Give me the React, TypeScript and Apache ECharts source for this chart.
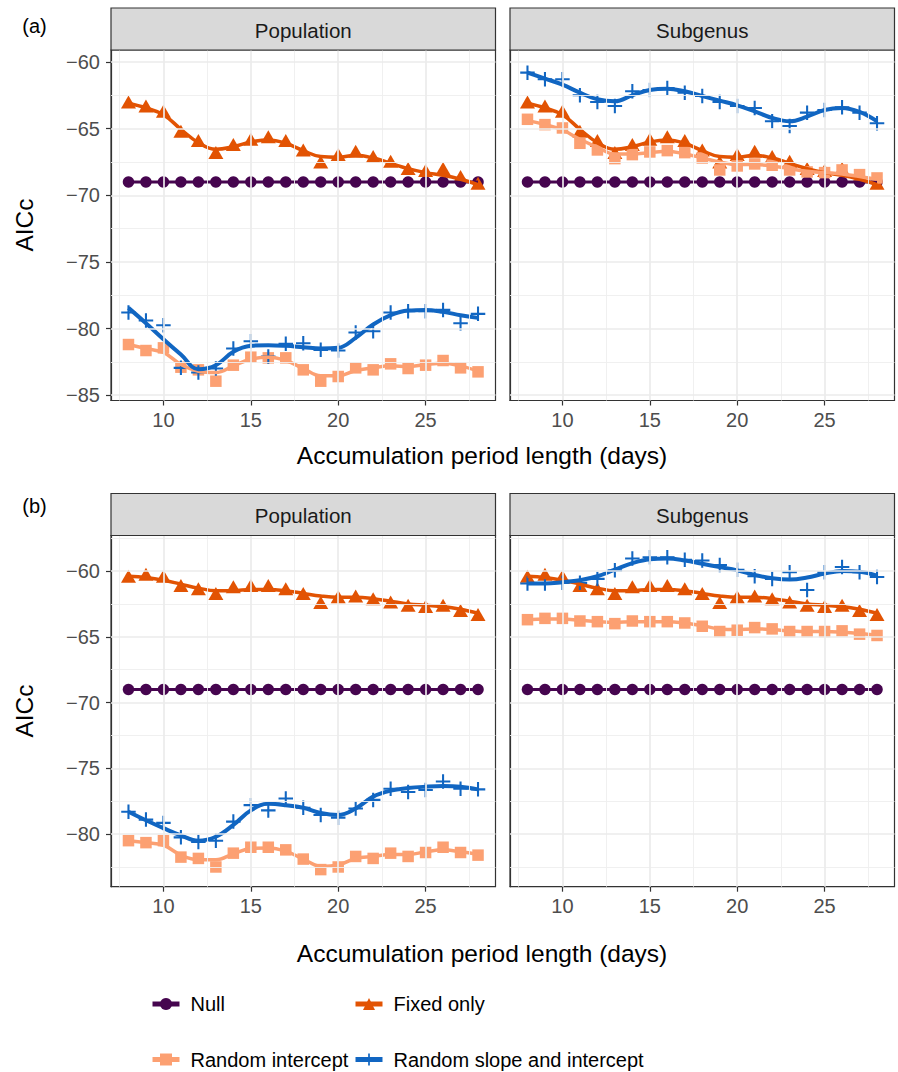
import React, { useEffect, useRef } from "react";
import * as echarts from "echarts";

const FONT = "'Liberation Sans', Arial, Helvetica, sans-serif";

// ---------- data ----------
const DAYS = [8, 9, 10, 11, 12, 13, 14, 15, 16, 17, 18, 19, 20, 21, 22, 23, 24, 25, 26, 27, 28];
const X_TICKS = [10, 15, 20, 25];
const X_MINOR = [7.5, 12.5, 17.5, 22.5, 27.5];
const Y_TICKS = [-85, -80, -75, -70, -65, -60];
const Y_MINOR = [-87.5, -82.5, -77.5, -72.5, -67.5, -62.5, -57.5];
const ROW_Y_MIN = [-85.4, -84.0];
const ROW_Y_MAX = [-59.1, -57.3];
const FACETS = ["Population", "Subgenus"];
const ROW_TAGS = ["(a)", "(b)"];
const MODELS = ["Null", "Fixed only", "Random intercept", "Random slope and intercept"];

// Null model (same in every panel)
const NULL_PTS = [-69, -69, -69, -69, -69, -69, -69, -69, -69, -69, -69, -69, -69, -69, -69, -69, -69, -69, -69, -69, -69];
const NULL_FIT = [-69, -69, -69, -69, -69, -69, -69, -69, -69, -69, -69, -69, -69, -69, -69, -69, -69, -69, -69, -69, -69];

// (a) Fixed only (same in both facets)
const A_FIXED_PTS = [-63.0, -63.3, -63.7, -65.2, -65.9, -66.8, -66.2, -65.8, -65.6, -65.9, -66.6, -67.5, -66.95, -66.7, -67.1, -67.45, -68.0, -68.15, -68.0, -68.6, -69.1];
const A_FIXED_FIT = [-63.1, -63.45, -63.95, -65.05, -66.05, -66.55, -66.35, -66.0, -65.85, -66.1, -66.65, -67.1, -67.15, -67.0, -67.2, -67.6, -68.0, -68.3, -68.5, -68.8, -69.2];
// (a) Population
const A_POP_RI_PTS = [-81.2, -81.65, -81.45, -82.9, -83.1, -83.95, -82.75, -82.15, -82.2, -82.2, -83.1, -83.95, -83.6, -82.95, -83.1, -82.65, -83.0, -82.75, -82.4, -82.95, -83.25];
const A_POP_RI_FIT = [-81.2, -81.5, -81.8, -82.7, -83.2, -83.3, -82.8, -82.3, -82.15, -82.4, -83.0, -83.55, -83.55, -83.15, -82.95, -82.8, -82.85, -82.7, -82.6, -82.8, -83.2];
const A_POP_RS_PTS = [-78.8, -79.4, -79.75, -82.95, -83.3, -83.0, -81.5, -80.95, -82.1, -81.15, -81.1, -81.6, -81.65, -80.3, -80.2, -78.8, -78.7, -78.7, -78.6, -79.6, -78.9];
const A_POP_RS_FIT = [-78.45, -79.6, -80.8, -81.95, -83.05, -82.75, -81.75, -81.3, -81.25, -81.3, -81.4, -81.5, -81.45, -80.7, -79.7, -79.0, -78.65, -78.6, -78.75, -79.0, -79.2];
// (a) Subgenus
const A_SUB_RI_PTS = [-64.3, -64.7, -64.95, -66.1, -66.6, -67.25, -66.95, -66.75, -66.65, -66.8, -67.2, -68.1, -67.8, -67.65, -67.75, -68.1, -68.25, -68.3, -68.1, -68.45, -68.7];
const A_SUB_RI_FIT = [-64.4, -64.7, -65.1, -65.8, -66.4, -66.9, -66.9, -66.8, -66.7, -66.9, -67.2, -67.5, -67.7, -67.7, -67.8, -68.0, -68.2, -68.3, -68.4, -68.6, -68.8];
const A_SUB_RS_PTS = [-60.8, -61.3, -61.3, -62.5, -63.0, -63.3, -62.2, -62.1, -61.95, -62.3, -62.55, -63.0, -63.3, -63.45, -64.45, -64.8, -63.8, -63.6, -63.4, -63.8, -64.6];
const A_SUB_RS_FIT = [-60.8, -61.25, -61.7, -62.3, -62.8, -62.95, -62.5, -62.1, -62.0, -62.2, -62.55, -62.9, -63.25, -63.7, -64.2, -64.45, -64.1, -63.6, -63.45, -63.75, -64.45];

// (b) Fixed only (same in both facets)
const B_FIXED_PTS = [-60.4, -60.25, -60.4, -61.1, -61.35, -61.7, -61.2, -61.1, -61.1, -61.35, -61.7, -62.4, -61.95, -61.9, -62.1, -62.35, -62.6, -62.7, -62.6, -63.0, -63.3];
const B_FIXED_FIT = [-60.4, -60.5, -60.7, -61.0, -61.3, -61.5, -61.5, -61.4, -61.4, -61.5, -61.7, -61.9, -62.0, -62.0, -62.1, -62.3, -62.5, -62.6, -62.7, -62.9, -63.2];
// (b) Population
const B_POP_RI_PTS = [-80.5, -80.65, -80.5, -81.75, -81.85, -82.5, -81.45, -81.0, -81.0, -81.2, -81.9, -82.7, -82.5, -81.7, -81.85, -81.45, -81.7, -81.4, -81.0, -81.4, -81.6];
const B_POP_RI_FIT = [-80.5, -80.65, -80.85, -81.6, -81.95, -81.95, -81.5, -81.1, -81.05, -81.3, -81.9, -82.45, -82.35, -81.85, -81.7, -81.55, -81.55, -81.35, -81.2, -81.35, -81.55];
const B_POP_RS_PTS = [-78.3, -78.9, -79.15, -80.25, -80.6, -80.5, -79.05, -77.8, -78.2, -77.3, -78.0, -78.55, -78.75, -78.05, -77.4, -76.55, -76.8, -76.65, -76.0, -76.55, -76.6];
const B_POP_RS_FIT = [-78.3, -78.95, -79.55, -80.1, -80.5, -80.2, -79.3, -78.2, -77.7, -77.8, -78.0, -78.4, -78.55, -78.05, -77.15, -76.7, -76.5, -76.4, -76.35, -76.4, -76.6];
// (b) Subgenus
const B_SUB_RI_PTS = [-63.7, -63.6, -63.6, -63.8, -63.85, -64.0, -63.8, -63.85, -63.85, -63.95, -64.2, -64.6, -64.5, -64.3, -64.4, -64.6, -64.6, -64.6, -64.55, -64.8, -64.9];
const B_SUB_RI_FIT = [-63.7, -63.65, -63.65, -63.75, -63.85, -63.9, -63.85, -63.85, -63.85, -63.95, -64.15, -64.4, -64.45, -64.4, -64.45, -64.55, -64.6, -64.6, -64.65, -64.75, -64.9];
const B_SUB_RS_PTS = [-60.95, -60.95, -60.9, -60.9, -60.6, -59.95, -59.05, -58.95, -58.95, -59.15, -59.2, -59.55, -59.9, -60.4, -60.6, -60.1, -61.45, -60.1, -59.7, -60.1, -60.45];
const B_SUB_RS_FIT = [-60.95, -60.95, -60.85, -60.7, -60.4, -59.9, -59.4, -59.1, -59.05, -59.2, -59.45, -59.7, -59.95, -60.3, -60.55, -60.65, -60.5, -60.2, -60.0, -60.05, -60.35];

// ---------- styling ----------
const PLUS = "path://M6,0H8V6H14V8H8V14H6V8H0V6H6Z";
const STYLES = [
  { color: "#46054F", symbol: "circle", size: 11.5, lw: 3 },
  { color: "#E25303", symbol: "triangle", size: [15, 13], lw: 3.5 },
  { color: "#FCA072", symbol: "rect", size: 11.5, lw: 3.5 },
  { color: "#1166C2", symbol: PLUS, size: 14.5, lw: 4 },
];

const PANELS = [
  { row: 0, col: 0, left: 111, top: 50, width: 384.5, height: 350.5,
    pts: [NULL_PTS, A_FIXED_PTS, A_POP_RI_PTS, A_POP_RS_PTS], fit: [NULL_FIT, A_FIXED_FIT, A_POP_RI_FIT, A_POP_RS_FIT] },
  { row: 0, col: 1, left: 510, top: 50, width: 384.5, height: 350.5,
    pts: [NULL_PTS, A_FIXED_PTS, A_SUB_RI_PTS, A_SUB_RS_PTS], fit: [NULL_FIT, A_FIXED_FIT, A_SUB_RI_FIT, A_SUB_RS_FIT] },
  { row: 1, col: 0, left: 111, top: 535.5, width: 384.5, height: 351.2,
    pts: [NULL_PTS, B_FIXED_PTS, B_POP_RI_PTS, B_POP_RS_PTS], fit: [NULL_FIT, B_FIXED_FIT, B_POP_RI_FIT, B_POP_RS_FIT] },
  { row: 1, col: 1, left: 510, top: 535.5, width: 384.5, height: 351.2,
    pts: [NULL_PTS, B_FIXED_PTS, B_SUB_RI_PTS, B_SUB_RS_PTS], fit: [NULL_FIT, B_FIXED_FIT, B_SUB_RI_FIT, B_SUB_RS_FIT] },
];

const STRIP_H = 42;
const minus = (v: number) => (v < 0 ? "\u2212" + Math.abs(v) : String(v));

function buildOption() {
  const grid: any[] = [];
  const xAxis: any[] = [];
  const yAxis: any[] = [];
  const series: any[] = [];
  const graphic: any[] = [];

  PANELS.forEach((p, i) => {
    const yMin = ROW_Y_MIN[p.row];
    const yMax = ROW_Y_MAX[p.row];
    grid.push({
      left: p.left, top: p.top, width: p.width, height: p.height,
      show: true, borderColor: "#333333", borderWidth: 1.2, backgroundColor: "transparent", z: 1,
    });
    xAxis.push({
      gridIndex: i, type: "value", min: 7, max: 29,
      axisLine: { show: true, lineStyle: { color: "#333333", width: 1.2 } },
      axisTick: { show: true, length: 5, customValues: X_TICKS, lineStyle: { color: "#333333", width: 1.2 } },
      axisLabel: { customValues: X_TICKS, color: "#4D4D4D", fontSize: 20, fontFamily: FONT, margin: 9 },
      splitLine: { show: false },
    });
    const showY = p.col === 0;
    yAxis.push({
      gridIndex: i, type: "value", min: yMin, max: yMax,
      axisLine: { show: true, lineStyle: { color: "#333333", width: 1.2 } },
      axisTick: { show: showY, length: 5, customValues: Y_TICKS, lineStyle: { color: "#333333", width: 1.2 } },
      axisLabel: { show: showY, customValues: Y_TICKS, formatter: minus, color: "#4D4D4D", fontSize: 20, fontFamily: FONT, margin: 11 },
      splitLine: { show: false },
    });

    const major = { color: "#EBEBEB", width: 1.7, type: "solid" };
    const minor = { color: "#EEEEEE", width: 0.9, type: "solid" };
    series.push({
      type: "line", xAxisIndex: i, yAxisIndex: i, data: [], z: 0, silent: true,
      markLine: {
        silent: true, symbol: ["none", "none"], label: { show: false }, animation: false,
        emphasis: { disabled: true },
        data: [
          ...X_MINOR.map((v) => ({ xAxis: v, lineStyle: minor })),
          ...Y_MINOR.filter((v) => v > yMin && v < yMax).map((v) => ({ yAxis: v, lineStyle: minor })),
          ...X_TICKS.map((v) => ({ xAxis: v, lineStyle: major })),
          ...Y_TICKS.filter((v) => v > yMin && v < yMax).map((v) => ({ yAxis: v, lineStyle: major })),
        ],
      },
    });

    MODELS.forEach((name, g) => {
      const s = STYLES[g];
      series.push({
        type: "line", name, xAxisIndex: i, yAxisIndex: i, z: 3,
        data: DAYS.map((d, k) => [d, p.fit[g][k]]),
        smooth: g === 0 ? false : 0.4, showSymbol: false, symbol: s.symbol, symbolSize: s.size,
        lineStyle: { color: s.color, width: s.lw }, itemStyle: { color: s.color },
        emphasis: { disabled: true }, silent: true,
      });
    });
    MODELS.forEach((name, g) => {
      const s = STYLES[g];
      series.push({
        type: "scatter", name, xAxisIndex: i, yAxisIndex: i, z: 2,
        data: DAYS.map((d, k) => [d, p.pts[g][k]]),
        symbol: s.symbol, symbolSize: s.size, itemStyle: { color: s.color, opacity: 1 },
        emphasis: { disabled: true }, silent: true,
      });
    });

    // facet strip
    graphic.push({
      type: "rect", z: 10,
      shape: { x: p.left, y: p.top - STRIP_H, width: p.width, height: STRIP_H },
      style: { fill: "#D9D9D9", stroke: "#333333", lineWidth: 1.2 },
    });
    graphic.push({
      type: "text", z: 11, x: p.left + p.width / 2, y: p.top - STRIP_H / 2 + 1,
      style: { text: FACETS[p.col], fill: "#1A1A1A", font: `20.5px ${FONT}`, align: "center", verticalAlign: "middle" },
    });
  });

  // row tags, axis titles
  const rowInfo = [
    { tagY: 26, midY: 225, titleY: 455 },
    { tagY: 506, midY: 711, titleY: 953 },
  ];
  rowInfo.forEach((r, k) => {
    graphic.push({
      type: "text", x: 34.5, y: r.tagY,
      style: { text: ROW_TAGS[k], fill: "#000", font: `20px ${FONT}`, align: "center", verticalAlign: "middle" },
    });
    graphic.push({
      type: "text", x: 24, y: r.midY, rotation: Math.PI / 2,
      style: { text: "AICc", fill: "#000", font: `24.5px ${FONT}`, align: "center", verticalAlign: "middle" },
    });
    graphic.push({
      type: "text", x: 482, y: r.titleY,
      style: { text: "Accumulation period length (days)", fill: "#000", font: `24.5px ${FONT}`, align: "center", verticalAlign: "middle" },
    });
  });

  const legendPos = [
    { left: 150, top: 994 },
    { left: 353, top: 994 },
    { left: 150, top: 1049.5 },
    { left: 353, top: 1049.5 },
  ];
  const legend = MODELS.map((name, g) => ({
    data: [name], left: legendPos[g].left, top: legendPos[g].top, padding: 0,
    itemWidth: 27, itemHeight: 15, selectedMode: false,
    lineStyle: { width: 5 },
    textStyle: { fontSize: 20, color: "#000", fontFamily: FONT, padding: [0, 0, 0, 6] },
  }));

  return {
    animation: false,
    backgroundColor: "#ffffff",
    textStyle: { fontFamily: FONT },
    grid, xAxis, yAxis, series, graphic, legend,
  };
}

export default function App() {
  const ref = useRef<HTMLDivElement>(null);
  useEffect(() => {
    if (!ref.current) return;
    const chart = echarts.init(ref.current, undefined, { renderer: "svg" });
    chart.setOption(buildOption() as any);
    return () => chart.dispose();
  }, []);
  return <div ref={ref} style={{ position: "absolute", left: 0, top: 0, width: 898, height: 1072 }} />;
}
